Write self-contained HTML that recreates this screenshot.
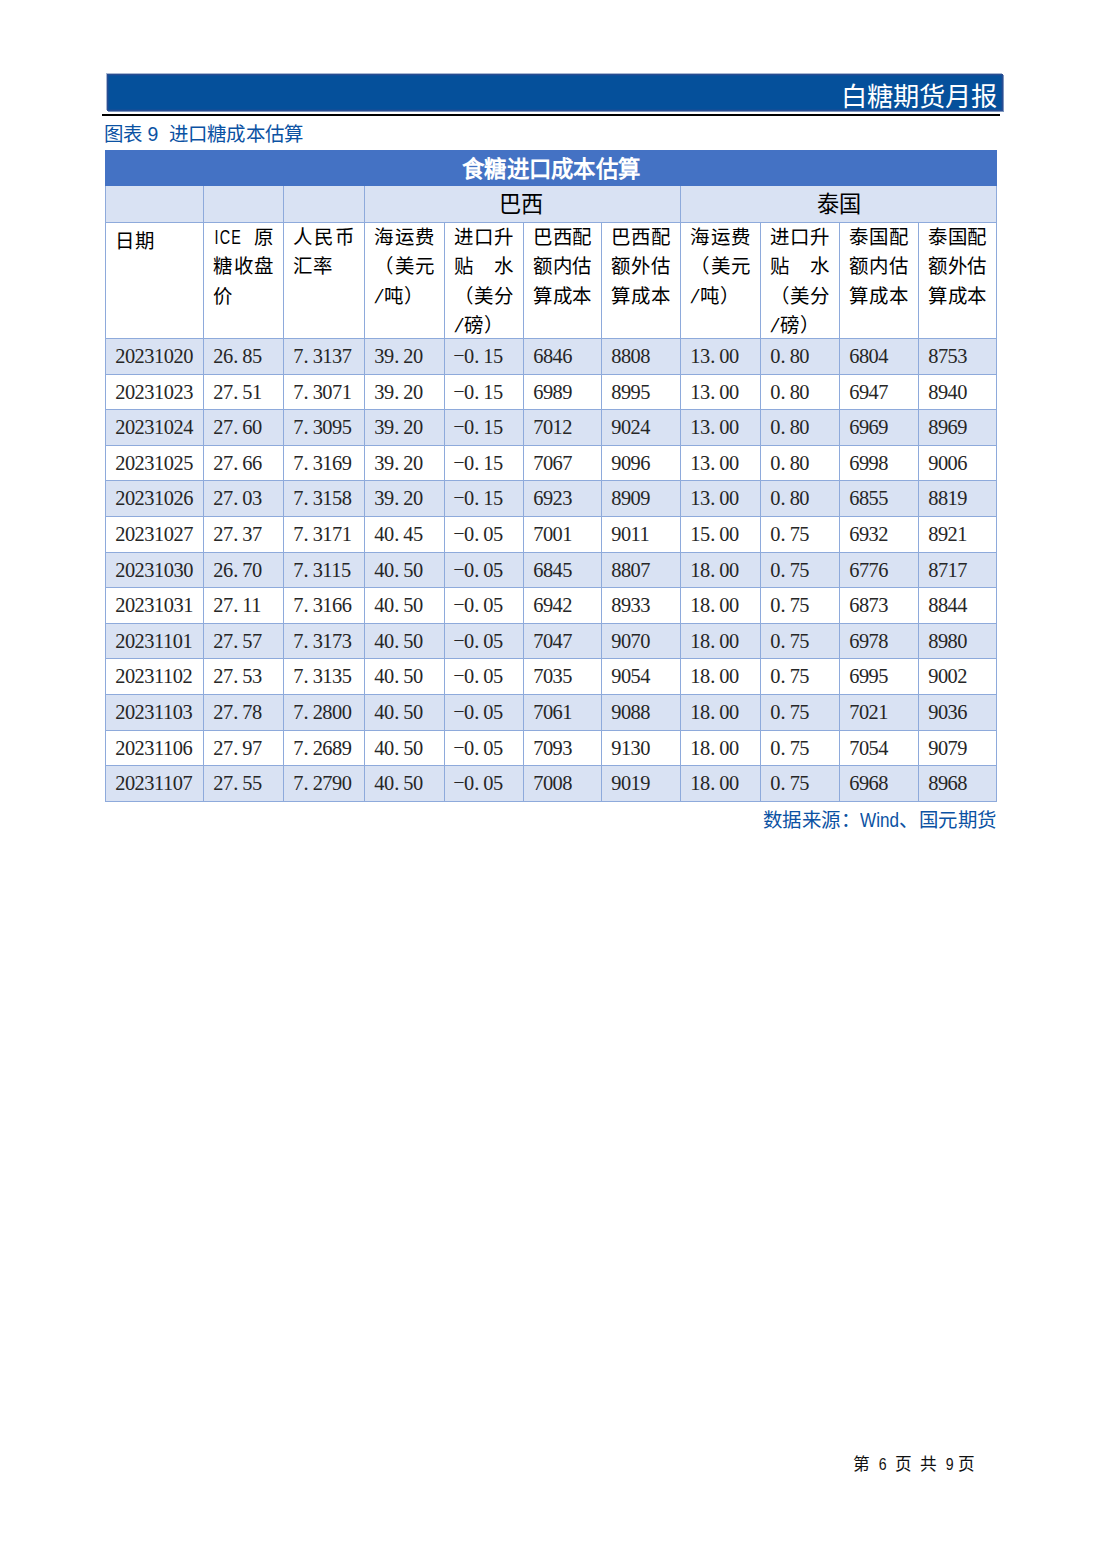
<!DOCTYPE html>
<html lang="zh-CN">
<head>
<meta charset="utf-8">
<title>白糖期货月报</title>
<style>
*{margin:0;padding:0;box-sizing:border-box}
html,body{width:1102px;height:1559px;background:#fff;overflow:hidden}
body{position:relative;font-family:"Liberation Sans",sans-serif;color:#000;text-spacing-trim:space-all}
div,span,i{position:absolute;white-space:nowrap;font-style:normal}
.bar{left:107px;top:74px;width:896px;height:37px;background:#05509b;border:1px solid #2a4d92;box-shadow:1px 1px 0 0 rgba(45,85,150,.62),-1px -1px 0 0 rgba(45,85,150,.42),inset 0 0 0 1px rgba(42,77,146,.3)}
.bart{right:4.6px;top:6.6px;height:30px;line-height:30px;font-size:26.3px;color:#fff}
.rule{left:102px;top:114px;width:898px;height:2px;background:#000}
.cap{left:103.8px;top:119.8px;height:29px;line-height:29px;font-size:19.44px;letter-spacing:0.2px;color:#0b52a3}
.src{left:700px;width:296.5px;top:806.2px;height:29px;line-height:29px;font-size:19.44px;letter-spacing:0.44px;color:#0b52a3;text-align:right}
.t0{left:105px;top:150px;width:892px;height:36px;background:#4472c4}
.t0t{left:0;width:892px;top:0;height:36px;line-height:37px;font-size:22.4px;font-weight:bold;color:#fff;text-align:center;padding-top:1.3px;letter-spacing:0.3px;padding-left:0.3px}
.t1{left:105px;top:186px;width:892px;height:36px;background:#d9e2f3}
.g{top:186px;height:36px;line-height:37px;font-size:22.2px;text-align:center}
.st{left:105px;width:892px;background:#d9e2f3}
.v{top:186px;width:1px;height:616px;background:#8eaadb}
.h{left:105px;width:892px;height:1px;background:#8eaadb}
.hl{height:29px;line-height:29px;font-size:19.44px;letter-spacing:.44px}
.j{text-align:justify;text-align-last:justify;white-space:nowrap;letter-spacing:0}
.la{display:inline-block;letter-spacing:1.6px;padding-left:2px;transform:scaleX(.74);transform-origin:0 50%;margin-right:-10.2px}
.w{position:static;display:inline-block;letter-spacing:0;transform:scaleX(.88);transform-origin:0 50%;margin-right:-5px}
.d{height:35px;line-height:35px;font-family:"Liberation Serif",serif;font-size:20.4px;letter-spacing:-0.48px;color:#262626}
.d i{position:static;display:inline-block;width:9.72px;letter-spacing:0;text-align:left;padding-left:.5px}
.d i.m{text-align:center;padding-left:0;transform:translateY(-1.2px) scale(1.75,.62)}
.sl{position:static;display:inline-block;width:9.72px;text-align:center;letter-spacing:0;transform:skewX(-15deg)}
.ft.n{transform:scaleX(.85)}
.ft{top:1449.6px;height:29px;line-height:29px;font-size:16.66px;color:#111}
</style>
</head>
<body>
<div class="bar"><span class="bart">白糖期货月报</span></div>
<div class="rule"></div>
<div class="cap">图表<span style="position:static;display:inline-block;width:26.5px;text-align:left;padding-left:5.2px">9</span>进口糖成本估算</div>
<div class="t0"><span class="t0t">食糖进口成本估算</span></div>
<div class="t1"></div>
<div class="g" style="left:362.5px;width:317px">巴西</div>
<div class="g" style="left:680px;width:317px">泰国</div>
<div class="st" style="top:338px;height:36px"></div>
<div class="st" style="top:409px;height:36px"></div>
<div class="st" style="top:480px;height:36px"></div>
<div class="st" style="top:552px;height:35px"></div>
<div class="st" style="top:623px;height:35px"></div>
<div class="st" style="top:694px;height:36px"></div>
<div class="st" style="top:765px;height:36px"></div>
<div class="h" style="top:222px"></div>
<div class="h" style="top:338px"></div>
<div class="h" style="top:374px"></div>
<div class="h" style="top:409px"></div>
<div class="h" style="top:445px"></div>
<div class="h" style="top:480px"></div>
<div class="h" style="top:516px"></div>
<div class="h" style="top:552px"></div>
<div class="h" style="top:587px"></div>
<div class="h" style="top:623px"></div>
<div class="h" style="top:658px"></div>
<div class="h" style="top:694px"></div>
<div class="h" style="top:730px"></div>
<div class="h" style="top:765px"></div>
<div class="h" style="top:801px"></div>
<div class="v" style="left:105px"></div>
<div class="v" style="left:203px"></div>
<div class="v" style="left:283px"></div>
<div class="v" style="left:364px"></div>
<div class="v" style="left:444px;top:222px;height:580px"></div>
<div class="v" style="left:523px;top:222px;height:580px"></div>
<div class="v" style="left:601px;top:222px;height:580px"></div>
<div class="v" style="left:680px"></div>
<div class="v" style="left:760px;top:222px;height:580px"></div>
<div class="v" style="left:839px;top:222px;height:580px"></div>
<div class="v" style="left:918px;top:222px;height:580px"></div>
<div class="v" style="left:996px"></div>
<div class="hl" style="left:115.4px;top:227.0px;width:77.6px">日期</div>
<div class="hl j" style="left:213.4px;top:223.4px;width:59.6px"><span class="la" style="position:static">ICE</span> 原</div>
<div class="hl j" style="left:213.4px;top:252.4px;width:59.6px">糖收盘</div>
<div class="hl" style="left:213.4px;top:281.5px;width:59.6px">价</div>
<div class="hl j" style="left:293.4px;top:223.4px;width:60.6px">人民币</div>
<div class="hl" style="left:293.4px;top:252.4px;width:60.6px">汇率</div>
<div class="hl j" style="left:374.4px;top:223.4px;width:59.6px">海运费</div>
<div class="hl j" style="left:374.4px;top:252.4px;width:59.6px">（美元</div>
<div class="hl" style="left:374.4px;top:281.5px;width:59.6px"><span class="sl">/</span>吨）</div>
<div class="hl j" style="left:454.4px;top:223.4px;width:58.6px">进口升</div>
<div class="hl j" style="left:454.4px;top:252.4px;width:58.6px">贴 水</div>
<div class="hl j" style="left:454.4px;top:281.5px;width:58.6px">（美分</div>
<div class="hl" style="left:454.4px;top:310.5px;width:58.6px"><span class="sl">/</span>磅）</div>
<div class="hl j" style="left:533.4px;top:223.4px;width:57.6px">巴西配</div>
<div class="hl j" style="left:533.4px;top:252.4px;width:57.6px">额内估</div>
<div class="hl j" style="left:533.4px;top:281.5px;width:57.6px">算成本</div>
<div class="hl j" style="left:611.4px;top:223.4px;width:58.6px">巴西配</div>
<div class="hl j" style="left:611.4px;top:252.4px;width:58.6px">额外估</div>
<div class="hl j" style="left:611.4px;top:281.5px;width:58.6px">算成本</div>
<div class="hl j" style="left:690.4px;top:223.4px;width:59.6px">海运费</div>
<div class="hl j" style="left:690.4px;top:252.4px;width:59.6px">（美元</div>
<div class="hl" style="left:690.4px;top:281.5px;width:59.6px"><span class="sl">/</span>吨）</div>
<div class="hl j" style="left:770.4px;top:223.4px;width:58.6px">进口升</div>
<div class="hl j" style="left:770.4px;top:252.4px;width:58.6px">贴 水</div>
<div class="hl j" style="left:770.4px;top:281.5px;width:58.6px">（美分</div>
<div class="hl" style="left:770.4px;top:310.5px;width:58.6px"><span class="sl">/</span>磅）</div>
<div class="hl j" style="left:849.4px;top:223.4px;width:58.6px">泰国配</div>
<div class="hl j" style="left:849.4px;top:252.4px;width:58.6px">额内估</div>
<div class="hl j" style="left:849.4px;top:281.5px;width:58.6px">算成本</div>
<div class="hl j" style="left:928.4px;top:223.4px;width:57.6px">泰国配</div>
<div class="hl j" style="left:928.4px;top:252.4px;width:57.6px">额外估</div>
<div class="hl j" style="left:928.4px;top:281.5px;width:57.6px">算成本</div>
<div class="d" style="left:115.2px;top:339.0px">20231020</div>
<div class="d" style="left:213.2px;top:339.0px">26<i class="p">.</i>85</div>
<div class="d" style="left:293.2px;top:339.0px">7<i class="p">.</i>3137</div>
<div class="d" style="left:374.2px;top:339.0px">39<i class="p">.</i>20</div>
<div class="d" style="left:454.2px;top:339.0px"><i class="m">-</i>0<i class="p">.</i>15</div>
<div class="d" style="left:533.2px;top:339.0px">6846</div>
<div class="d" style="left:611.2px;top:339.0px">8808</div>
<div class="d" style="left:690.2px;top:339.0px">13<i class="p">.</i>00</div>
<div class="d" style="left:770.2px;top:339.0px">0<i class="p">.</i>80</div>
<div class="d" style="left:849.2px;top:339.0px">6804</div>
<div class="d" style="left:928.2px;top:339.0px">8753</div>
<div class="d" style="left:115.2px;top:375.0px">20231023</div>
<div class="d" style="left:213.2px;top:375.0px">27<i class="p">.</i>51</div>
<div class="d" style="left:293.2px;top:375.0px">7<i class="p">.</i>3071</div>
<div class="d" style="left:374.2px;top:375.0px">39<i class="p">.</i>20</div>
<div class="d" style="left:454.2px;top:375.0px"><i class="m">-</i>0<i class="p">.</i>15</div>
<div class="d" style="left:533.2px;top:375.0px">6989</div>
<div class="d" style="left:611.2px;top:375.0px">8995</div>
<div class="d" style="left:690.2px;top:375.0px">13<i class="p">.</i>00</div>
<div class="d" style="left:770.2px;top:375.0px">0<i class="p">.</i>80</div>
<div class="d" style="left:849.2px;top:375.0px">6947</div>
<div class="d" style="left:928.2px;top:375.0px">8940</div>
<div class="d" style="left:115.2px;top:410.0px">20231024</div>
<div class="d" style="left:213.2px;top:410.0px">27<i class="p">.</i>60</div>
<div class="d" style="left:293.2px;top:410.0px">7<i class="p">.</i>3095</div>
<div class="d" style="left:374.2px;top:410.0px">39<i class="p">.</i>20</div>
<div class="d" style="left:454.2px;top:410.0px"><i class="m">-</i>0<i class="p">.</i>15</div>
<div class="d" style="left:533.2px;top:410.0px">7012</div>
<div class="d" style="left:611.2px;top:410.0px">9024</div>
<div class="d" style="left:690.2px;top:410.0px">13<i class="p">.</i>00</div>
<div class="d" style="left:770.2px;top:410.0px">0<i class="p">.</i>80</div>
<div class="d" style="left:849.2px;top:410.0px">6969</div>
<div class="d" style="left:928.2px;top:410.0px">8969</div>
<div class="d" style="left:115.2px;top:446.0px">20231025</div>
<div class="d" style="left:213.2px;top:446.0px">27<i class="p">.</i>66</div>
<div class="d" style="left:293.2px;top:446.0px">7<i class="p">.</i>3169</div>
<div class="d" style="left:374.2px;top:446.0px">39<i class="p">.</i>20</div>
<div class="d" style="left:454.2px;top:446.0px"><i class="m">-</i>0<i class="p">.</i>15</div>
<div class="d" style="left:533.2px;top:446.0px">7067</div>
<div class="d" style="left:611.2px;top:446.0px">9096</div>
<div class="d" style="left:690.2px;top:446.0px">13<i class="p">.</i>00</div>
<div class="d" style="left:770.2px;top:446.0px">0<i class="p">.</i>80</div>
<div class="d" style="left:849.2px;top:446.0px">6998</div>
<div class="d" style="left:928.2px;top:446.0px">9006</div>
<div class="d" style="left:115.2px;top:481.0px">20231026</div>
<div class="d" style="left:213.2px;top:481.0px">27<i class="p">.</i>03</div>
<div class="d" style="left:293.2px;top:481.0px">7<i class="p">.</i>3158</div>
<div class="d" style="left:374.2px;top:481.0px">39<i class="p">.</i>20</div>
<div class="d" style="left:454.2px;top:481.0px"><i class="m">-</i>0<i class="p">.</i>15</div>
<div class="d" style="left:533.2px;top:481.0px">6923</div>
<div class="d" style="left:611.2px;top:481.0px">8909</div>
<div class="d" style="left:690.2px;top:481.0px">13<i class="p">.</i>00</div>
<div class="d" style="left:770.2px;top:481.0px">0<i class="p">.</i>80</div>
<div class="d" style="left:849.2px;top:481.0px">6855</div>
<div class="d" style="left:928.2px;top:481.0px">8819</div>
<div class="d" style="left:115.2px;top:517.0px">20231027</div>
<div class="d" style="left:213.2px;top:517.0px">27<i class="p">.</i>37</div>
<div class="d" style="left:293.2px;top:517.0px">7<i class="p">.</i>3171</div>
<div class="d" style="left:374.2px;top:517.0px">40<i class="p">.</i>45</div>
<div class="d" style="left:454.2px;top:517.0px"><i class="m">-</i>0<i class="p">.</i>05</div>
<div class="d" style="left:533.2px;top:517.0px">7001</div>
<div class="d" style="left:611.2px;top:517.0px">9011</div>
<div class="d" style="left:690.2px;top:517.0px">15<i class="p">.</i>00</div>
<div class="d" style="left:770.2px;top:517.0px">0<i class="p">.</i>75</div>
<div class="d" style="left:849.2px;top:517.0px">6932</div>
<div class="d" style="left:928.2px;top:517.0px">8921</div>
<div class="d" style="left:115.2px;top:553.0px">20231030</div>
<div class="d" style="left:213.2px;top:553.0px">26<i class="p">.</i>70</div>
<div class="d" style="left:293.2px;top:553.0px">7<i class="p">.</i>3115</div>
<div class="d" style="left:374.2px;top:553.0px">40<i class="p">.</i>50</div>
<div class="d" style="left:454.2px;top:553.0px"><i class="m">-</i>0<i class="p">.</i>05</div>
<div class="d" style="left:533.2px;top:553.0px">6845</div>
<div class="d" style="left:611.2px;top:553.0px">8807</div>
<div class="d" style="left:690.2px;top:553.0px">18<i class="p">.</i>00</div>
<div class="d" style="left:770.2px;top:553.0px">0<i class="p">.</i>75</div>
<div class="d" style="left:849.2px;top:553.0px">6776</div>
<div class="d" style="left:928.2px;top:553.0px">8717</div>
<div class="d" style="left:115.2px;top:588.0px">20231031</div>
<div class="d" style="left:213.2px;top:588.0px">27<i class="p">.</i>11</div>
<div class="d" style="left:293.2px;top:588.0px">7<i class="p">.</i>3166</div>
<div class="d" style="left:374.2px;top:588.0px">40<i class="p">.</i>50</div>
<div class="d" style="left:454.2px;top:588.0px"><i class="m">-</i>0<i class="p">.</i>05</div>
<div class="d" style="left:533.2px;top:588.0px">6942</div>
<div class="d" style="left:611.2px;top:588.0px">8933</div>
<div class="d" style="left:690.2px;top:588.0px">18<i class="p">.</i>00</div>
<div class="d" style="left:770.2px;top:588.0px">0<i class="p">.</i>75</div>
<div class="d" style="left:849.2px;top:588.0px">6873</div>
<div class="d" style="left:928.2px;top:588.0px">8844</div>
<div class="d" style="left:115.2px;top:624.0px">20231101</div>
<div class="d" style="left:213.2px;top:624.0px">27<i class="p">.</i>57</div>
<div class="d" style="left:293.2px;top:624.0px">7<i class="p">.</i>3173</div>
<div class="d" style="left:374.2px;top:624.0px">40<i class="p">.</i>50</div>
<div class="d" style="left:454.2px;top:624.0px"><i class="m">-</i>0<i class="p">.</i>05</div>
<div class="d" style="left:533.2px;top:624.0px">7047</div>
<div class="d" style="left:611.2px;top:624.0px">9070</div>
<div class="d" style="left:690.2px;top:624.0px">18<i class="p">.</i>00</div>
<div class="d" style="left:770.2px;top:624.0px">0<i class="p">.</i>75</div>
<div class="d" style="left:849.2px;top:624.0px">6978</div>
<div class="d" style="left:928.2px;top:624.0px">8980</div>
<div class="d" style="left:115.2px;top:659.0px">20231102</div>
<div class="d" style="left:213.2px;top:659.0px">27<i class="p">.</i>53</div>
<div class="d" style="left:293.2px;top:659.0px">7<i class="p">.</i>3135</div>
<div class="d" style="left:374.2px;top:659.0px">40<i class="p">.</i>50</div>
<div class="d" style="left:454.2px;top:659.0px"><i class="m">-</i>0<i class="p">.</i>05</div>
<div class="d" style="left:533.2px;top:659.0px">7035</div>
<div class="d" style="left:611.2px;top:659.0px">9054</div>
<div class="d" style="left:690.2px;top:659.0px">18<i class="p">.</i>00</div>
<div class="d" style="left:770.2px;top:659.0px">0<i class="p">.</i>75</div>
<div class="d" style="left:849.2px;top:659.0px">6995</div>
<div class="d" style="left:928.2px;top:659.0px">9002</div>
<div class="d" style="left:115.2px;top:695.0px">20231103</div>
<div class="d" style="left:213.2px;top:695.0px">27<i class="p">.</i>78</div>
<div class="d" style="left:293.2px;top:695.0px">7<i class="p">.</i>2800</div>
<div class="d" style="left:374.2px;top:695.0px">40<i class="p">.</i>50</div>
<div class="d" style="left:454.2px;top:695.0px"><i class="m">-</i>0<i class="p">.</i>05</div>
<div class="d" style="left:533.2px;top:695.0px">7061</div>
<div class="d" style="left:611.2px;top:695.0px">9088</div>
<div class="d" style="left:690.2px;top:695.0px">18<i class="p">.</i>00</div>
<div class="d" style="left:770.2px;top:695.0px">0<i class="p">.</i>75</div>
<div class="d" style="left:849.2px;top:695.0px">7021</div>
<div class="d" style="left:928.2px;top:695.0px">9036</div>
<div class="d" style="left:115.2px;top:731.0px">20231106</div>
<div class="d" style="left:213.2px;top:731.0px">27<i class="p">.</i>97</div>
<div class="d" style="left:293.2px;top:731.0px">7<i class="p">.</i>2689</div>
<div class="d" style="left:374.2px;top:731.0px">40<i class="p">.</i>50</div>
<div class="d" style="left:454.2px;top:731.0px"><i class="m">-</i>0<i class="p">.</i>05</div>
<div class="d" style="left:533.2px;top:731.0px">7093</div>
<div class="d" style="left:611.2px;top:731.0px">9130</div>
<div class="d" style="left:690.2px;top:731.0px">18<i class="p">.</i>00</div>
<div class="d" style="left:770.2px;top:731.0px">0<i class="p">.</i>75</div>
<div class="d" style="left:849.2px;top:731.0px">7054</div>
<div class="d" style="left:928.2px;top:731.0px">9079</div>
<div class="d" style="left:115.2px;top:766.0px">20231107</div>
<div class="d" style="left:213.2px;top:766.0px">27<i class="p">.</i>55</div>
<div class="d" style="left:293.2px;top:766.0px">7<i class="p">.</i>2790</div>
<div class="d" style="left:374.2px;top:766.0px">40<i class="p">.</i>50</div>
<div class="d" style="left:454.2px;top:766.0px"><i class="m">-</i>0<i class="p">.</i>05</div>
<div class="d" style="left:533.2px;top:766.0px">7008</div>
<div class="d" style="left:611.2px;top:766.0px">9019</div>
<div class="d" style="left:690.2px;top:766.0px">18<i class="p">.</i>00</div>
<div class="d" style="left:770.2px;top:766.0px">0<i class="p">.</i>75</div>
<div class="d" style="left:849.2px;top:766.0px">6968</div>
<div class="d" style="left:928.2px;top:766.0px">8968</div>
<div class="src">数据来源：<span class="w">Wind</span>、国元期货</div>
<div class="ft" style="left:852.5px">第</div><div class="ft n" style="left:877.7px">6</div><div class="ft" style="left:895.0px">页</div><div class="ft" style="left:920.4px">共</div><div class="ft n" style="left:945.1px">9</div><div class="ft" style="left:958.4px">页</div>
</body>
</html>
